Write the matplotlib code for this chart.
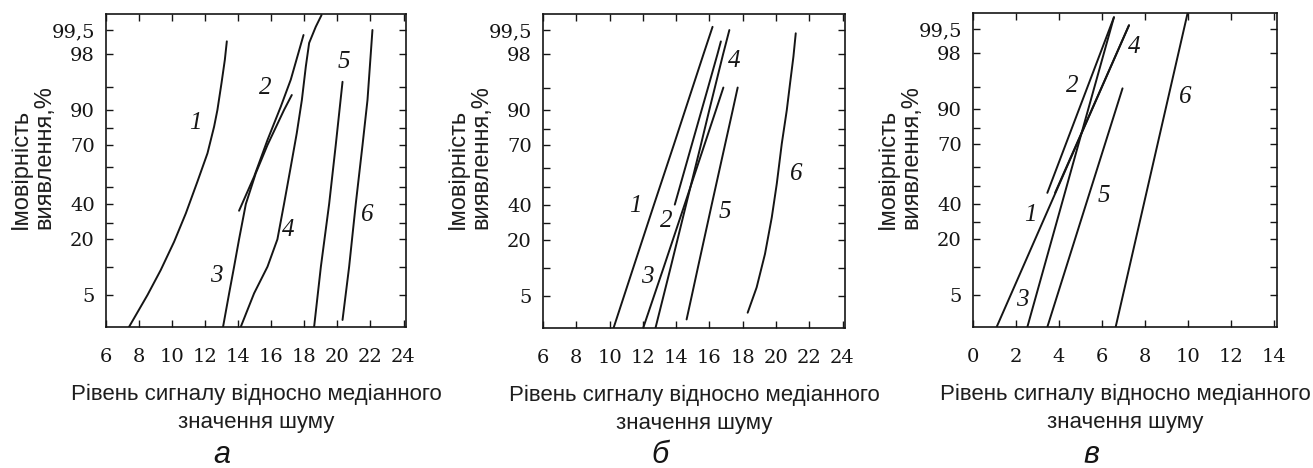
import numpy as np
import matplotlib
matplotlib.use("Agg")
import matplotlib.pyplot as plt
from matplotlib.ticker import FixedLocator, FixedFormatter, NullFormatter

# Probability-paper ruling: probability (%) and its position along the axis
PAPER_P = [2, 5, 10, 20, 30, 40, 50, 60, 70, 80, 90, 95, 98, 99.5, 99.8]
PAPER_POS = [0, 32, 60.3, 87.7, 104.3, 123, 140.3, 159.7, 182, 198.7, 217, 239.7, 272.7, 297, 313]

Y_MAJOR = [5, 20, 40, 70, 90, 98, 99.5]
Y_MAJOR_LABELS = ["5", "20", "40", "70", "90", "98", "99,5"]
Y_MINOR = [10, 30, 50, 60, 80, 95]

# ---- panel а ----
a1_x = [7.39, 8.51, 9.31, 10.12, 10.83, 11.53, 12.14, 12.54, 12.74, 12.99, 13.19, 13.31]
a1_p = [2.0, 5.0, 9.4, 19.1, 35.0, 52.6, 66.3, 80.9, 90.0, 95.4, 97.5, 98.8]
a2_x = [14.05, 14.96, 15.77, 16.57, 17.18, 17.95]
a2_p = [36.4, 55.2, 73.0, 90.7, 95.7, 99.19]
a3_x = [13.08, 13.45, 13.75, 14.05, 14.46, 15.06, 15.77, 16.77, 17.24]
a3_p = [2.0, 5.3, 10.0, 20.0, 40.0, 56.9, 70.0, 90.0, 93.3]
a4_x = [14.15, 14.96, 15.77, 16.37, 16.77, 17.18, 17.54, 17.85, 18.09, 18.29, 18.69, 19.04]
a4_p = [2.0, 5.3, 10.0, 20.0, 40.0, 60.3, 77.0, 92.2, 96.9, 98.7, 99.56, 99.78]
a5_x = [18.59, 19.0, 19.5, 19.9, 20.31]
a5_p = [2.0, 10.0, 40.0, 70.0, 95.5]
a6_x = [20.31, 20.71, 21.11, 21.52, 21.82, 22.12]
a6_p = [2.66, 10.0, 40.0, 70.0, 92.2, 99.5]
a_lab_x = [11.43, 15.66, 12.70, 17.0, 20.39, 21.83]
a_lab_p = [82.9, 94.9, 8.4, 25.6, 97.3, 34.1]

# ---- panel б ----
b1_x = [10.24, 11.43, 12.67, 13.85, 14.54, 15.64, 16.19]
b1_p = [2.0, 10.0, 40.0, 70.0, 90.0, 98.0, 99.56]
b2_x = [13.92, 14.93, 15.53, 15.92, 16.48, 16.69]
b2_p = [40.0, 70.0, 90.0, 95.0, 98.0, 98.8]
b3_x = [12.02, 13.25, 14.51, 15.69, 16.39, 16.84]
b3_p = [2.0, 10.0, 40.0, 70.0, 90.0, 95.0]
b4_x = [12.76, 13.67, 14.6, 15.48, 15.99, 16.82, 17.2]
b4_p = [2.0, 10.0, 40.0, 70.0, 90.0, 98.0, 99.5]
b5_x = [14.63, 14.94, 15.31, 16.14, 16.93, 17.4, 17.7]
b5_p = [2.8, 5.0, 10.0, 40.0, 70.0, 90.0, 95.0]
b6_x = [18.3, 18.84, 19.34, 19.75, 20.05, 20.35, 20.65, 20.85, 21.05, 21.19]
b6_p = [3.43, 6.5, 14.9, 33.2, 51.8, 71.0, 90.0, 95.4, 97.8, 99.3]
b_lab_x = [11.55, 13.42, 12.28, 17.5, 16.93, 21.19]
b_lab_p = [39.5, 31.4, 8.4, 97.4, 35.9, 56.9]

# ---- panel в ----
c1_x = [1.10, 7.26]
c1_p = [2.0, 99.57]
c2_x = [3.46, 6.56]
c2_p = [46.2, 99.72]
c3_x = [2.53, 6.56]
c3_p = [2.0, 99.72]
c4_x = [3.82, 7.26]
c4_p = [46.2, 99.57]
c5_x = [3.46, 6.96]
c5_p = [2.0, 94.6]
c6_x = [6.64, 9.99]
c6_p = [2.0, 99.8]
c_lab_x = [2.68, 4.62, 2.29, 7.5, 6.1, 9.9]
c_lab_p = [33.7, 95.05, 4.5, 98.4, 44.2, 92.6]

CURVE_NAMES = ["1", "2", "3", "4", "5", "6"]
X_TICKS_AB = [6, 8, 10, 12, 14, 16, 18, 20, 22, 24]
X_TICKS_C = [0, 2, 4, 6, 8, 10, 12, 14]

XLABEL = "Рівень сигналу відносно медіанного\nзначення шуму"
YLABEL = "Імовірність\nвиявлення,%"
PANEL_TAGS = ["а", "б", "в"]

INK = "#151515"
TICK_FONT = "DejaVu Serif"
NUM_FONT = "Liberation Serif"
SANS = "Liberation Sans"


def paper_fwd(p):
    return np.interp(p, PAPER_P, PAPER_POS)


def paper_inv(v):
    return np.interp(v, PAPER_POS, PAPER_P)


W, H = 1313, 468
fig = plt.figure(figsize=(W / 100, H / 100), dpi=100)

boxes = [(106, 14, 406, 327), (543, 14, 845, 328), (973, 13, 1277, 327)]
xlims = [(6, 24.15), (6, 24.15), (0, 14.15)]
xticks = [X_TICKS_AB, X_TICKS_AB, X_TICKS_C]
curves = [
    [(a1_x, a1_p), (a2_x, a2_p), (a3_x, a3_p), (a4_x, a4_p), (a5_x, a5_p), (a6_x, a6_p)],
    [(b1_x, b1_p), (b2_x, b2_p), (b3_x, b3_p), (b4_x, b4_p), (b5_x, b5_p), (b6_x, b6_p)],
    [(c1_x, c1_p), (c2_x, c2_p), (c3_x, c3_p), (c4_x, c4_p), (c5_x, c5_p), (c6_x, c6_p)],
]
labels = [(a_lab_x, a_lab_p), (b_lab_x, b_lab_p), (c_lab_x, c_lab_p)]

for i in range(3):
    l, t, r, b = boxes[i]
    ax = fig.add_axes([l / W, 1 - b / H, (r - l) / W, (b - t) / H])
    ax.set_yscale("function", functions=(paper_fwd, paper_inv))
    ax.set_ylim(2, 99.8)
    ax.set_xlim(*xlims[i])

    for xs, ps in curves[i]:
        ax.plot(xs, ps, color=INK, lw=1.4, solid_capstyle="round")
    lx, lp = labels[i]
    for name, x, p in zip(CURVE_NAMES, lx, lp):
        ax.text(x, p, name, family=NUM_FONT, style="italic", fontsize=18,
                color=INK, ha="center", va="center")

    ax.yaxis.set_major_locator(FixedLocator(Y_MAJOR))
    ax.yaxis.set_major_formatter(FixedFormatter(Y_MAJOR_LABELS))
    ax.yaxis.set_minor_locator(FixedLocator(Y_MINOR))
    ax.yaxis.set_minor_formatter(NullFormatter())
    ax.xaxis.set_major_locator(FixedLocator(xticks[i]))
    ax.xaxis.set_minor_locator(FixedLocator([]))

    ax.tick_params(axis="both", which="both", direction="in", length=5, width=1.0,
                   color=INK, top=True, right=True)
    ax.tick_params(axis="y", which="major", pad=8)
    ax.tick_params(axis="x", which="major", pad=15)
    for lab in ax.get_xticklabels() + ax.get_yticklabels():
        lab.set_family(TICK_FONT)
        lab.set_fontsize(14)
        lab.set_color(INK)
    for sp in ax.spines.values():
        sp.set_linewidth(1.2)
        sp.set_color(INK)

    ax.set_xlabel(XLABEL, family=SANS, fontsize=16, color="#1e1e1e",
                  linespacing=1.45, labelpad=13)
    ax.set_ylabel(YLABEL, family=SANS, fontsize=17, color="#1e1e1e",
                  linespacing=1.1, multialignment="left", va="center")
    ax.yaxis.set_label_coords(-73 / (r - l), (b - 157) / (b - t))

    cx = (l + r) / 2 - 34
    fig.text(cx / W, 1 - 455 / H, PANEL_TAGS[i], family=SANS, style="italic",
             fontsize=22, color=INK, ha="center", va="center")

fig.savefig("out.png", dpi=100)
